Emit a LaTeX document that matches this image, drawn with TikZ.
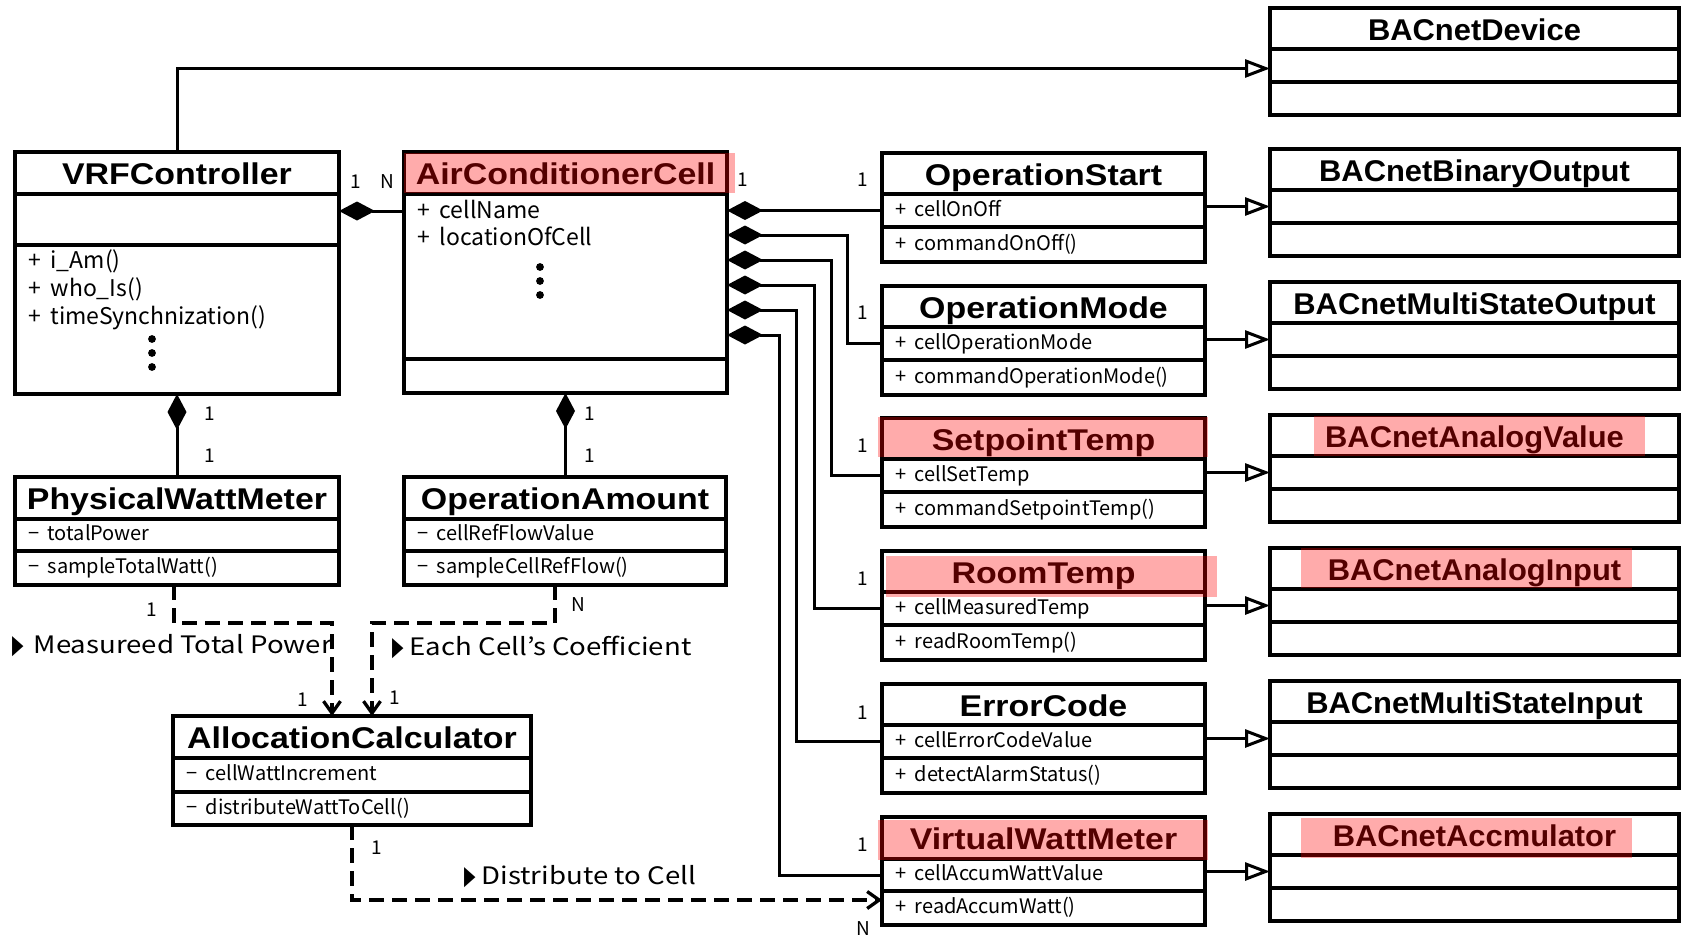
\documentclass[tikz,border=0pt]{standalone}
\usepackage{graphicx}
\usepackage{fontspec}
\setmainfont{Liberation Sans}
\newfontfamily\ttlfont{Liberation Sans}[FakeStretch=1.13]
\newfontfamily\bacfont{Liberation Sans}[FakeStretch=1.03]
\newfontfamily\jpfont{Noto Sans CJK JP}
\newfontfamily\lblfont{Noto Sans CJK JP}[FakeStretch=1.15]
\newfontfamily\symfont{DejaVu Sans}
\usetikzlibrary{arrows.meta,calc}

\tikzset{
  box/.style={draw, line width=3.2pt, rectangle, inner sep=0pt, outer sep=0pt},
  ttl/.style={box, font=\ttlfont\bfseries\fontsize{30}{32}\selectfont, text height=23pt, text depth=0pt},
  bac/.style={box, font=\bacfont\bfseries\fontsize{30}{32}\selectfont, text height=23pt, text depth=0pt},
  cmp/.style={box},
  attr/.style={anchor=west, inner sep=0pt, font=\jpfont\fontsize{20}{24}\selectfont, text height=15pt, text depth=4pt},
  attrbig/.style={attr, font=\jpfont\fontsize{23}{26}\selectfont},
  mult/.style={inner sep=0pt, font=\jpfont\fontsize{19}{20}\selectfont},
  lbl/.style={anchor=base west, inner sep=0pt, font=\lblfont\fontsize{24}{26}\selectfont},
  comp/.style={line width=3pt, {Diamond[length=36pt,width=19pt]}-},
  gen/.style={line width=3pt, -{Triangle[open,length=25pt,width=18pt]}},
  dep/.style={line width=3.3pt, dash pattern=on 15pt off 8pt, -{Straight Barb[length=12pt,width=17pt]}},
  hl/.style={fill=red, fill opacity=0.33},
}

% class box: name, left, top, width, title h, attribute h, operation h, title, title style
\newcommand\umlbox[9]{%
  \node[#9, minimum width=#4, minimum height=#5, anchor=north west] (#1-t) at (#2,#3) {#8};
  \node[cmp, minimum width=#4, minimum height=#6, anchor=north west] (#1-a) at (#1-t.south west) {};
  \node[cmp, minimum width=#4, minimum height=#7, anchor=north west] (#1-m) at (#1-a.south west) {};}

\newcommand\tri{{\symfont\scalebox{0.62}[1.1]{▶}}}
\newcommand\pub{+\hspace{0.42em}}
\newcommand\prv{−\hspace{0.42em}}

\begin{document}
\begin{tikzpicture}[x=1pt,y=-1pt]
\useasboundingbox (0,0) rectangle (1682,937);

% ---------- left part ----------
\umlbox{vrf}{15}{152}{324}{42}{51}{149}{VRFController}{ttl}
\umlbox{acc}{404}{152}{323}{42}{165}{34}{AirConditionerCell}{ttl}
\umlbox{pwm}{15}{477}{324}{42}{32}{34}{PhysicalWattMeter}{ttl}
\umlbox{oa}{404}{477}{322}{42}{32}{34}{OperationAmount}{ttl}
\umlbox{alc}{173}{716}{358}{42}{34}{33}{AllocationCalculator}{ttl}

\node[attrbig] (vrf-m1) at ([xshift=13pt,yshift=-18pt]vrf-m.north west) {\pub i\_Am()};
\node[attrbig] (vrf-m2) at ([xshift=13pt,yshift=-46pt]vrf-m.north west) {\pub who\_Is()};
\node[attrbig] (vrf-m3) at ([xshift=13pt,yshift=-74pt]vrf-m.north west) {\pub timeSynchnization()};
\foreach \yy in {339,353,367} \fill (152,\yy) circle (3.9);

\node[attrbig] (acc-a1) at ([xshift=13pt,yshift=-19pt]acc-a.north west) {\pub cellName};
\node[attrbig] (acc-a2) at ([xshift=13pt,yshift=-46pt]acc-a.north west) {\pub locationOfCell};
\foreach \yy in {267,281,295} \fill (540,\yy) circle (3.9);

\node[attr] (pwm-a1) at ([xshift=13pt]pwm-a.west) {\prv totalPower};
\node[attr] (pwm-m1) at ([xshift=13pt]pwm-m.west) {\prv sampleTotalWatt()};
\node[attr] (oa-a1) at ([xshift=13pt]oa-a.west) {\prv cellRefFlowValue};
\node[attr] (oa-m1) at ([xshift=13pt]oa-m.west) {\prv sampleCellRefFlow()};
\node[attr] (alc-a1) at ([xshift=13pt]alc-a.west) {\prv cellWattIncrement};
\node[attr] (alc-m1) at ([xshift=13pt]alc-m.west) {\prv distributeWattToCell()};

% ---------- middle column ----------
\umlbox{os}{882}{153}{323}{41}{33}{35}{OperationStart}{ttl}
\umlbox{om}{882}{286}{323}{41}{33}{35}{OperationMode}{ttl}
\umlbox{sp}{882}{418}{323}{41}{33}{35}{SetpointTemp}{ttl}
\umlbox{rt}{882}{551}{323}{41}{33}{35}{RoomTemp}{ttl}
\umlbox{ec}{882}{684}{323}{41}{33}{35}{ErrorCode}{ttl}
\umlbox{vwm}{882}{817}{323}{42}{32}{34}{VirtualWattMeter}{ttl}

\node[attr] (os-a1) at ([xshift=13pt]os-a.west) {\pub cellOnOff};
\node[attr] (os-m1) at ([xshift=13pt]os-m.west) {\pub commandOnOff()};
\node[attr] (om-a1) at ([xshift=13pt]om-a.west) {\pub cellOperationMode};
\node[attr] (om-m1) at ([xshift=13pt]om-m.west) {\pub commandOperationMode()};
\node[attr] (sp-a1) at ([xshift=13pt]sp-a.west) {\pub cellSetTemp};
\node[attr] (sp-m1) at ([xshift=13pt]sp-m.west) {\pub commandSetpointTemp()};
\node[attr] (rt-a1) at ([xshift=13pt]rt-a.west) {\pub cellMeasuredTemp};
\node[attr] (rt-m1) at ([xshift=13pt]rt-m.west) {\pub readRoomTemp()};
\node[attr] (ec-a1) at ([xshift=13pt]ec-a.west) {\pub cellErrorCodeValue};
\node[attr] (ec-m1) at ([xshift=13pt]ec-m.west) {\pub detectAlarmStatus()};
\node[attr] (vwm-a1) at ([xshift=13pt]vwm-a.west) {\pub cellAccumWattValue};
\node[attr] (vwm-m1) at ([xshift=13pt]vwm-m.west) {\pub readAccumWatt()};

% ---------- BACnet objects ----------
\umlbox{dev}{1270}{8}{409}{41}{33}{33}{BACnetDevice}{bac}
\umlbox{bbo}{1270}{149}{409}{41}{33}{33}{BACnetBinaryOutput}{bac}
\umlbox{bmo}{1270}{282}{409}{41}{33}{33}{BACnetMultiStateOutput}{bac}
\umlbox{bav}{1270}{415}{409}{41}{33}{33}{BACnetAnalogValue}{bac}
\umlbox{bai}{1270}{548}{409}{41}{33}{33}{BACnetAnalogInput}{bac}
\umlbox{bmi}{1270}{681}{409}{41}{33}{33}{BACnetMultiStateInput}{bac}
\umlbox{bac}{1270}{814}{409}{41}{33}{33}{BACnetAccmulator}{bac}

% ---------- generalizations ----------
\draw[gen] (vrf-t.north) |- ([yshift=-3pt]dev-a.west);
\draw[gen] (bbo-a.west -| os-a.east) -- (bbo-a.west);
\draw[gen] (bmo-a.west -| om-a.east) -- (bmo-a.west);
\draw[gen] (bav-a.west -| sp-a.east) -- (bav-a.west);
\draw[gen] (bai-a.west -| rt-a.east) -- (bai-a.west);
\draw[gen] (bmi-a.west -| ec-a.east) -- (bmi-a.west);
\draw[gen] (bac-a.west -| vwm-a.east) -- (bac-a.west);

% ---------- compositions ----------
\coordinate (vrfj) at ([yshift=-17pt]vrf-a.north east);
\draw[comp] (vrfj) -- (vrfj -| acc-a.west);
\draw[comp] (vrf-m.south) -- (pwm-t.north);
\draw[comp] (acc-m.south) -- (acc-m.south |- oa-t.north);
\draw[comp] (os-a.west -| acc-a.east) -- (os-a.west);
\draw[comp] ([yshift=-41pt]acc-a.north east) -- ++(120,0) |- (om-a.west);
\draw[comp] ([yshift=-66pt]acc-a.north east) -- ++(104,0) |- (sp-a.west);
\draw[comp] ([yshift=-91pt]acc-a.north east) -- ++(87,0) |- (rt-a.west);
\draw[comp] ([yshift=-116pt]acc-a.north east) -- ++(69,0) |- (ec-a.west);
\draw[comp] ([yshift=-141pt]acc-a.north east) -- ++(52,0) |- (vwm-a.west);

% ---------- dependencies ----------
\draw[dep] ([xshift=-3pt]pwm-m.south) -- ++(0,38) -| ([xshift=-20pt]alc-t.north);
\draw[dep] ([xshift=-10pt]oa-m.south) -- ++(0,38) -| ([xshift=20pt]alc-t.north);
\draw[dep] (alc-m.south) |- ([yshift=8pt]vwm-m.west);

% ---------- multiplicities ----------
\node[mult] (n1) at (356,182) {1};
\node[mult] (n2) at (387,182) {N};
\node[mult] (n3) at (743,180) {1};
\node[mult] (n4) at (863,180) {1};
\node[mult] (n5) at (863,313) {1};
\node[mult] (n6) at (863,446) {1};
\node[mult] (n7) at (863,579) {1};
\node[mult] (n8) at (863,713) {1};
\node[mult] (n9) at (863,845) {1};
\node[mult] (n10) at (210,414) {1};
\node[mult] (n11) at (210,456) {1};
\node[mult] (n12) at (590,414) {1};
\node[mult] (n13) at (590,456) {1};
\node[mult] (n14) at (152,610) {1};
\node[mult] (n15) at (578,605) {N};
\node[mult] (n16) at (303,700) {1};
\node[mult] (n17) at (395,698) {1};
\node[mult] (n18) at (377,848) {1};
\node[mult] (n19) at (863,929) {N};

% ---------- flow labels ----------
\node[lbl] (l1) at (12,653) {\tri\hspace{10pt}Measureed Total Power};
\node[lbl] (l2) at (392,655) {\tri\hspace{6pt}Each Cell’s Coefficient};
\node[lbl] (l3) at (464,884) {\tri\hspace{6pt}Distribute to Cell};

% ---------- highlights ----------
\fill[hl] (404,153) rectangle (735,193);
\fill[hl] (878,417) rectangle (1208,457);
\fill[hl] (886,556) rectangle (1217,597);
\fill[hl] (878,820) rectangle (1208,860);
\fill[hl] (1314,416) rectangle (1645,456);
\fill[hl] (1301,548) rectangle (1632,588);
\fill[hl] (1301,818) rectangle (1632,858);
\end{tikzpicture}
\end{document}
